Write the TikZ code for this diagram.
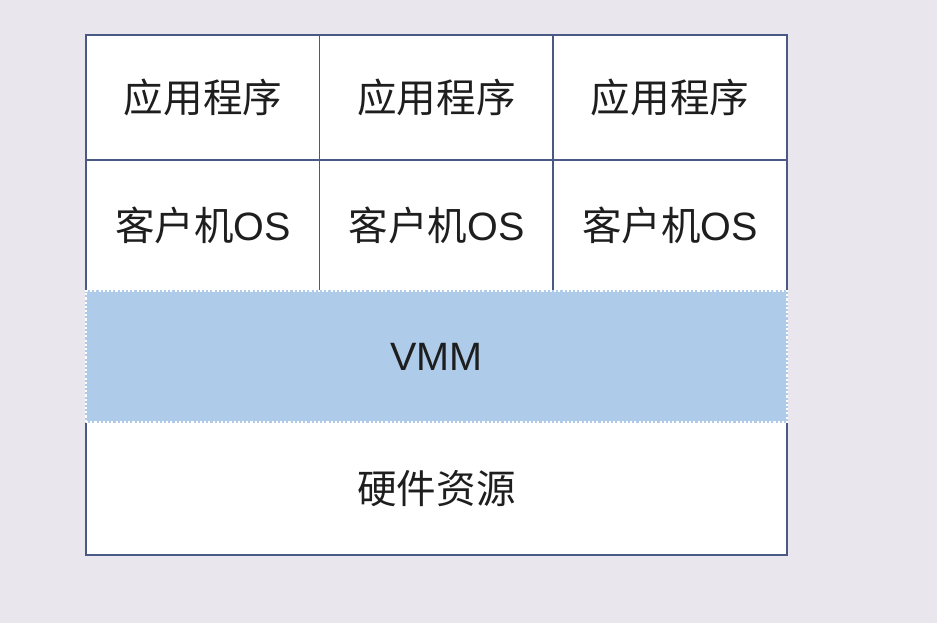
\documentclass[tikz,border=0pt]{standalone}
\usepackage{fontspec}
\setmainfont{Noto Sans CJK SC}
\newfontfamily\latinfont{Liberation Sans}
\usetikzlibrary{positioning}
\definecolor{bgcol}{HTML}{E9E6EE}
\definecolor{edgecol}{HTML}{4B5A85}
\definecolor{vmmcol}{HTML}{AECBEA}
\definecolor{txtcol}{HTML}{1E1E1E}
\tikzstyle{cell}=[rectangle,draw=edgecol,fill=white,line width=0.85pt,inner sep=0pt,minimum width=4.674cm,text=txtcol,font=\fontsize{22.5}{27}\selectfont]
\tikzstyle{wide}=[cell,minimum width=14.02cm]
\tikzstyle{vmmlayer}=[wide,fill=vmmcol,draw=white,dash pattern=on 1.2pt off 1.2pt,line width=0.8pt,preaction={draw=vmmcol,solid,line width=1.2pt}]

\begin{document}
\begin{tikzpicture}
    \fill[bgcol] (0,0) rectangle (18.74,-12.46);
    \useasboundingbox (0,0) rectangle (18.74,-12.46);
    % top row: applications
    \foreach \pos/\name/\label in { {(4.06,-1.95)/appA/应用程序}, {(8.73,-1.95)/appB/应用程序}, {(13.40,-1.95)/appC/应用程序}}
        \node[cell,minimum height=2.5cm] (\name) at \pos {\label};
    % second row: guest OS
    \foreach \pos/\name/\label in { {(4.06,-4.51)/osA/客户机{\latinfont OS}}, {(8.73,-4.51)/osB/客户机{\latinfont OS}}, {(13.40,-4.51)/osC/客户机{\latinfont OS}}}
        \node[cell,minimum height=2.62cm] (\name) at \pos {\label};
    % hardware and vmm
    \node[wide,minimum height=2.66cm] (hw) at (8.73,-9.77) {硬件资源};
    \node[vmmlayer,minimum height=2.62cm] (vmm) at (8.73,-7.13) {\latinfont VMM};
\end{tikzpicture}
\end{document}
